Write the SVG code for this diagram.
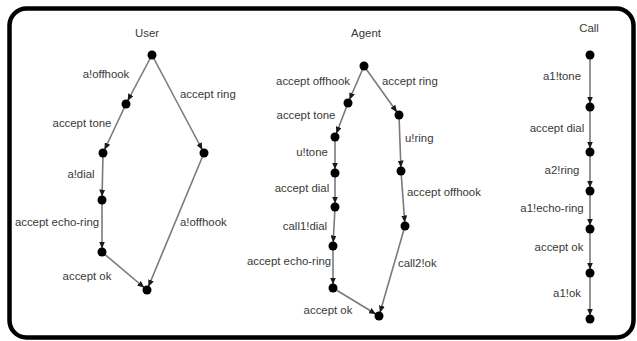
<svg xmlns="http://www.w3.org/2000/svg" width="637" height="341" viewBox="0 0 637 341">
  <style>
    .frame { fill: #ffffff; stroke: #000000; stroke-width: 4.5; }
    .edge { fill: none; stroke: #7a7a7a; stroke-width: 1.6; marker-end: url(#arrow); }
    .node { fill: #000000; }
    text { font-family: "Liberation Sans", Arial, sans-serif; font-size: 11.4px; fill: #383838; }
    .mid { text-anchor: middle; }
  </style>
  <defs>
    <marker id="arrow" viewBox="0 0 7 6" refX="10.5" refY="3" markerWidth="7" markerHeight="6" markerUnits="userSpaceOnUse" orient="auto">
      <path d="M0,0 L7,3 L0,6 z" fill="#1a1a1a"/>
    </marker>
  </defs>

  <rect width="637" height="341" fill="#ffffff"/>
  <rect class="frame" x="9.5" y="8.5" width="624" height="329" rx="17" ry="17"/>

  <!-- titles -->
  <text class="mid" x="147" y="37">User</text>
  <text class="mid" x="366" y="37">Agent</text>
  <text class="mid" x="589" y="32">Call</text>

  <!-- transitions -->
  <g id="connectors">
    <!-- User -->
    <line class="edge" x1="152" y1="55" x2="126" y2="104"/>
    <line class="edge" x1="126" y1="104" x2="103" y2="153"/>
    <line class="edge" x1="103" y1="153" x2="102" y2="200"/>
    <line class="edge" x1="102" y1="200" x2="102" y2="252"/>
    <line class="edge" x1="102" y1="252" x2="147" y2="290"/>
    <line class="edge" x1="152" y1="55" x2="204" y2="153"/>
    <line class="edge" x1="204" y1="153" x2="147" y2="290"/>
    <!-- Agent -->
    <line class="edge" x1="364" y1="66" x2="348" y2="103"/>
    <line class="edge" x1="348" y1="103" x2="335" y2="137"/>
    <line class="edge" x1="335" y1="137" x2="335" y2="173"/>
    <line class="edge" x1="335" y1="173" x2="335" y2="207"/>
    <line class="edge" x1="335" y1="207" x2="333" y2="246"/>
    <line class="edge" x1="333" y1="246" x2="333" y2="288"/>
    <line class="edge" x1="333" y1="288" x2="379" y2="316"/>
    <line class="edge" x1="364" y1="66" x2="399" y2="115"/>
    <line class="edge" x1="399" y1="115" x2="401" y2="171"/>
    <line class="edge" x1="401" y1="171" x2="405" y2="226"/>
    <line class="edge" x1="405" y1="226" x2="379" y2="316"/>
    <!-- Call -->
    <line class="edge" x1="590" y1="55" x2="590" y2="107"/>
    <line class="edge" x1="590" y1="107" x2="590" y2="152"/>
    <line class="edge" x1="590" y1="152" x2="590" y2="191"/>
    <line class="edge" x1="590" y1="191" x2="590" y2="229"/>
    <line class="edge" x1="590" y1="229" x2="590" y2="273"/>
    <line class="edge" x1="590" y1="273" x2="590" y2="319"/>
  </g>

  <!-- transition labels -->
  <g id="labels-user">
    <text class="mid" x="106" y="78">a!offhook</text>
    <text x="180" y="98">accept ring</text>
    <text class="mid" x="82" y="127">accept tone</text>
    <text class="mid" x="81" y="178">a!dial</text>
    <text class="mid" x="57" y="226">accept echo-ring</text>
    <text x="180" y="226">a!offhook</text>
    <text class="mid" x="87" y="280">accept ok</text>
  </g>
  <g id="labels-agent">
    <text class="mid" x="313" y="85">accept offhook</text>
    <text x="382" y="85">accept ring</text>
    <text class="mid" x="306" y="119">accept tone</text>
    <text class="mid" x="312" y="156">u!tone</text>
    <text x="405" y="142">u!ring</text>
    <text class="mid" x="302" y="192">accept dial</text>
    <text x="407" y="196">accept offhook</text>
    <text class="mid" x="305" y="230">call1!dial</text>
    <text class="mid" x="289" y="265">accept echo-ring</text>
    <text x="398" y="267">call2!ok</text>
    <text class="mid" x="328" y="314">accept ok</text>
  </g>
  <g id="labels-call">
    <text class="mid" x="562" y="80">a1!tone</text>
    <text class="mid" x="557" y="132">accept dial</text>
    <text class="mid" x="562" y="174">a2!ring</text>
    <text class="mid" x="552" y="212">a1!echo-ring</text>
    <text class="mid" x="559" y="251">accept ok</text>
    <text class="mid" x="567" y="297">a1!ok</text>
  </g>

  <!-- states: User -->
  <g id="user-s0"><circle class="node" cx="152" cy="55" r="4.5"/></g>
  <g id="user-s1"><circle class="node" cx="126" cy="104" r="4.5"/></g>
  <g id="user-s2"><circle class="node" cx="103" cy="153" r="4.5"/></g>
  <g id="user-s3"><circle class="node" cx="102" cy="200" r="4.5"/></g>
  <g id="user-s4"><circle class="node" cx="102" cy="252" r="4.5"/></g>
  <g id="user-s5"><circle class="node" cx="147" cy="290" r="4.5"/></g>
  <g id="user-s6"><circle class="node" cx="204" cy="153" r="4.5"/></g>

  <!-- states: Agent -->
  <g id="agent-s0"><circle class="node" cx="364" cy="66" r="4.5"/></g>
  <g id="agent-s1"><circle class="node" cx="348" cy="103" r="4.5"/></g>
  <g id="agent-s2"><circle class="node" cx="335" cy="137" r="4.5"/></g>
  <g id="agent-s3"><circle class="node" cx="335" cy="173" r="4.5"/></g>
  <g id="agent-s4"><circle class="node" cx="335" cy="207" r="4.5"/></g>
  <g id="agent-s5"><circle class="node" cx="333" cy="246" r="4.5"/></g>
  <g id="agent-s6"><circle class="node" cx="333" cy="288" r="4.5"/></g>
  <g id="agent-s7"><circle class="node" cx="379" cy="316" r="4.5"/></g>
  <g id="agent-s8"><circle class="node" cx="399" cy="115" r="4.5"/></g>
  <g id="agent-s9"><circle class="node" cx="401" cy="171" r="4.5"/></g>
  <g id="agent-s10"><circle class="node" cx="405" cy="226" r="4.5"/></g>

  <!-- states: Call -->
  <g id="call-s0"><circle class="node" cx="590" cy="55" r="4.5"/></g>
  <g id="call-s1"><circle class="node" cx="590" cy="107" r="4.5"/></g>
  <g id="call-s2"><circle class="node" cx="590" cy="152" r="4.5"/></g>
  <g id="call-s3"><circle class="node" cx="590" cy="191" r="4.5"/></g>
  <g id="call-s4"><circle class="node" cx="590" cy="229" r="4.5"/></g>
  <g id="call-s5"><circle class="node" cx="590" cy="273" r="4.5"/></g>
  <g id="call-s6"><circle class="node" cx="590" cy="319" r="4.5"/></g>
</svg>
